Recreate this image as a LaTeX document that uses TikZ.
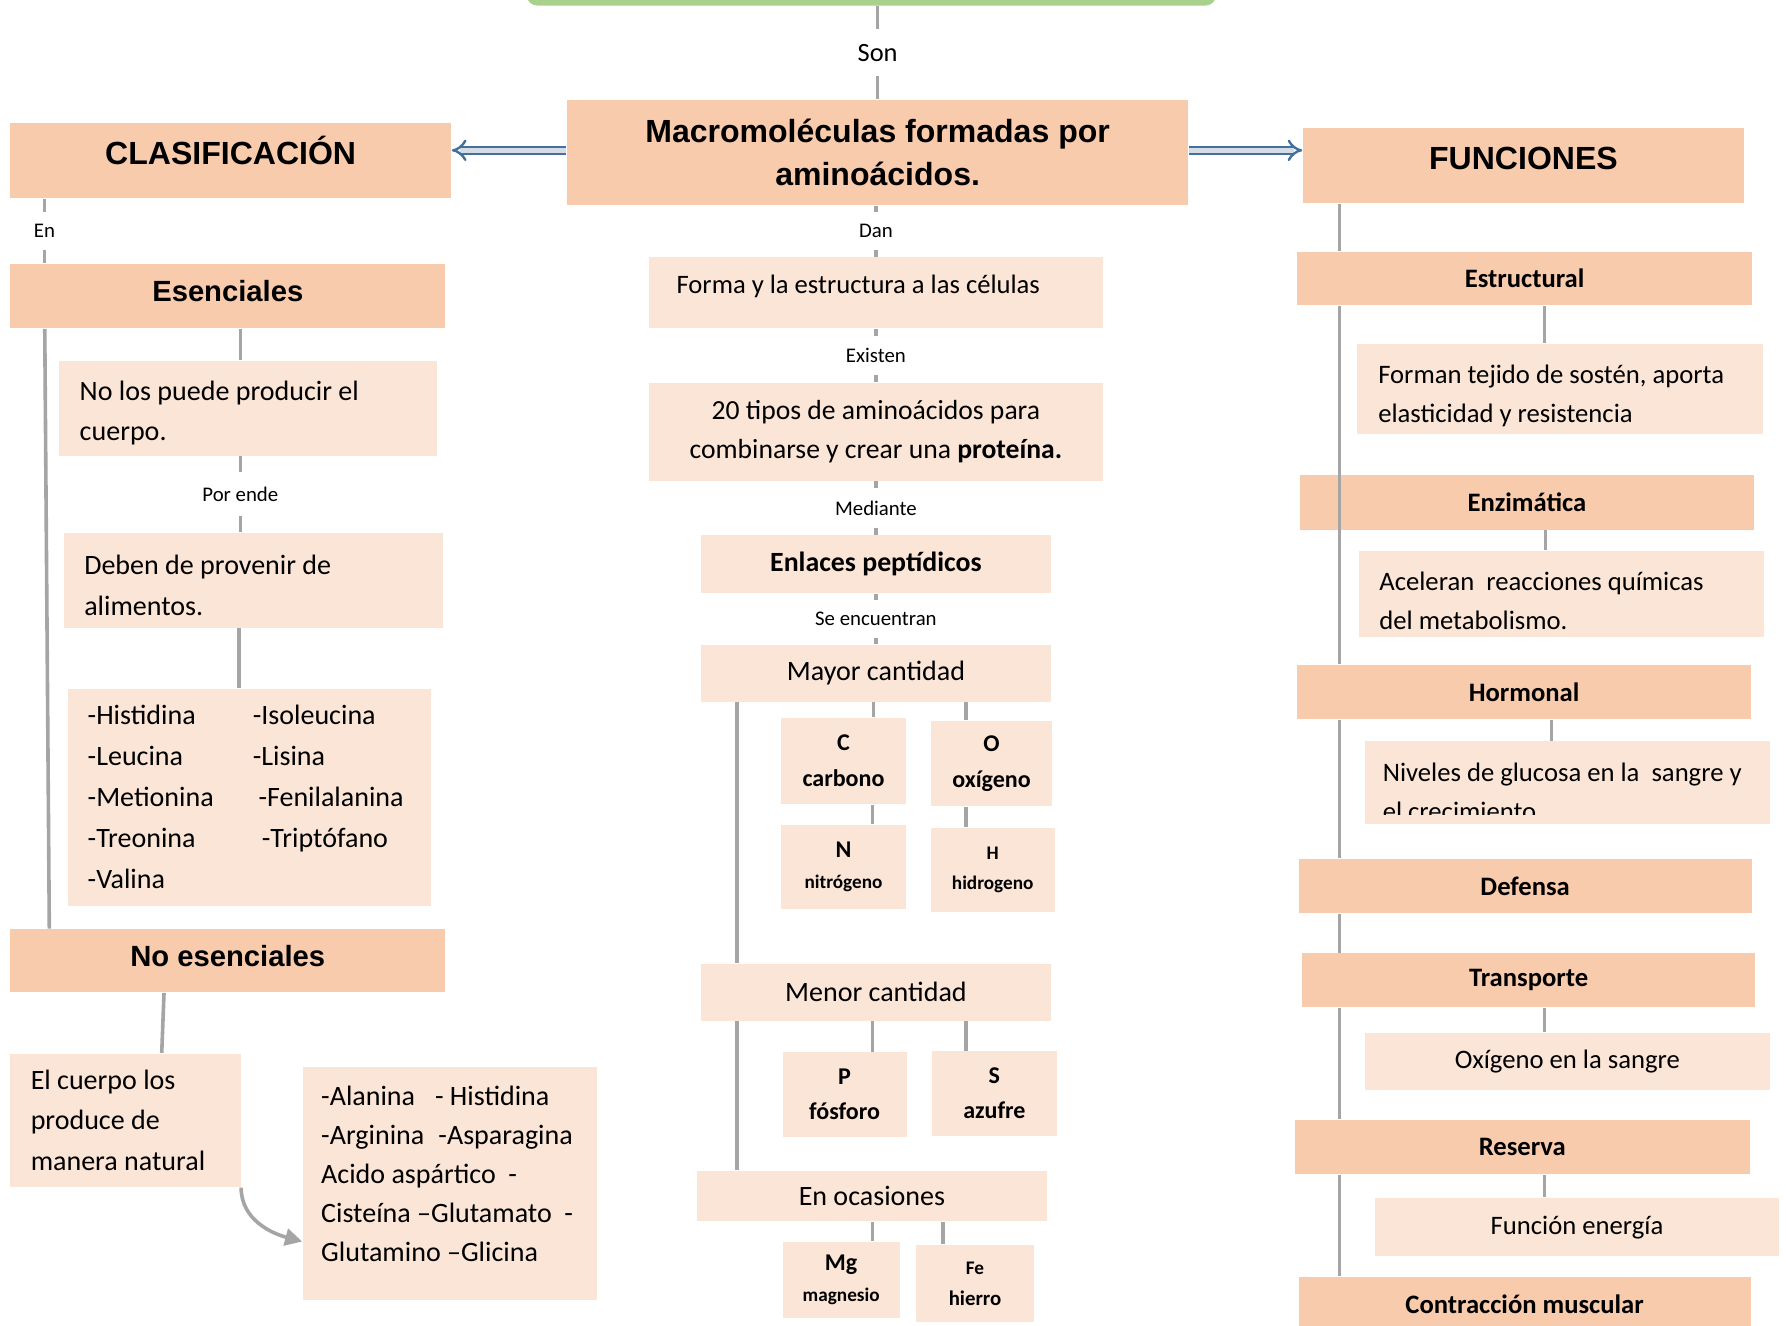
\documentclass[tikz,border=0pt]{standalone}
\usepackage{fontspec}
\setmainfont{Carlito}
\newfontfamily\arialfont{Liberation Sans}
\usetikzlibrary{arrows.meta,positioning}
\definecolor{peachdark}{RGB}{248,203,173}
\definecolor{peachlight}{RGB}{251,229,214}
\definecolor{linegray}{RGB}{165,165,165}
\definecolor{arrowblue}{RGB}{65,113,156}
\definecolor{arrowfill}{RGB}{214,220,229}
\definecolor{topgreen}{RGB}{169,209,142}
\tikzset{
  darkbox/.style={fill=peachdark, inner sep=0pt, align=center},
  lightbox/.style={fill=peachlight, inner sep=0pt, align=center},
  leftbox/.style={fill=peachlight, inner ysep=0pt, inner xsep=0.18cm, align=flush left},
  headfont/.style={font=\arialfont\bfseries\fontsize{8pt}{10.8pt}\selectfont},
  head2font/.style={font=\arialfont\bfseries\fontsize{7.3pt}{9pt}\selectfont, text height=0.19cm, text depth=0.09cm},
  subfont/.style={font=\bfseries\fontsize{6.65pt}{8pt}\selectfont},
  bodyL/.style={font=\fontsize{7pt}{10.1pt}\selectfont},
  bodyC/.style={font=\fontsize{7pt}{9.96pt}\selectfont},
  bodyR/.style={font=\fontsize{6.66pt}{9.67pt}\selectfont},
  elem/.style={font=\bfseries\fontsize{6pt}{#1}\selectfont},
  elemsm/.style={font=\bfseries\fontsize{4.8pt}{#1}\selectfont},
  conn/.style={draw=linegray, line width=0.9pt},
  lbl/.style={fill=white, inner xsep=1pt, inner ysep=0.11cm, font=\fontsize{5.2pt}{6pt}\selectfont},
  dblarrow/.style={draw=arrowblue, line width=0.6pt, double=arrowfill, double distance=1.2pt, -{Implies}},
}
\begin{document}
\begin{tikzpicture}
  \useasboundingbox (0,0) rectangle (15.68,11.64);

  % Top box and main concept
  \node[fill=topgreen, rounded corners=0.1cm, minimum width=6.06cm, minimum height=0.6cm] (top) at (7.65,11.89) {};
  \node[darkbox, headfont, minimum width=5.45cm, minimum height=0.92cm] (macro) at (7.705,10.30) {Macromoléculas formadas por\\aminoácidos.};
  \node[darkbox, headfont, text height=0.2cm, text depth=0.13cm, minimum width=3.87cm, minimum height=0.66cm] (clas) at (2.025,10.23) {CLASIFICACIÓN};
  \node[darkbox, headfont, text height=0.2cm, text depth=0.13cm, minimum width=3.87cm, minimum height=0.66cm] (func) at (13.375,10.19) {FUNCIONES};

  \draw[conn] (macro.north |- top.south) -- node[lbl, inner ysep=0.13cm, font=\fontsize{6.6pt}{8pt}\selectfont] {Son} (macro.north);
  \draw[dblarrow] ([yshift=0.02cm]macro.west) -- ([yshift=0.02cm]macro.west -| clas.east);
  \draw[dblarrow] ([yshift=0.02cm]macro.east) -- ([yshift=0.02cm]macro.east -| func.west);

  % Left column: clasificacion
  \node[darkbox, head2font, minimum width=3.82cm, minimum height=0.56cm] (esen) at (2.00,9.04) {Esenciales};
  \node[leftbox, bodyL, text width=2.96cm, minimum height=0.83cm] (nolos) at (2.18,8.055) {\rule{0pt}{7.3pt}No los puede producir el\\cuerpo.};
  \node[leftbox, bodyL, text width=2.97cm, minimum height=0.83cm] (deben) at (2.225,6.545) {\rule{0pt}{7.3pt}Deben de provenir de\\alimentos.};
  \node[leftbox, font=\fontsize{7pt}{10.24pt}\selectfont, inner xsep=0.17cm, text width=2.84cm, minimum height=1.90cm] (esenlist) at (2.19,4.64) {\makebox[1.45cm][l]{-Histidina}-Isoleucina\\\makebox[1.45cm][l]{-Leucina}-Lisina\\\makebox[1.45cm][l]{-Metionina}\hspace{0.05cm}-Fenilalanina\\\makebox[1.45cm][l]{-Treonina}\hspace{0.08cm}-Triptófano\\-Valina};
  \node[darkbox, head2font, minimum width=3.82cm, minimum height=0.55cm] (noesen) at (2.00,3.205) {No esenciales};
  \node[leftbox, bodyL, text width=1.67cm, minimum height=1.17cm] (cuerpo) at (1.105,1.805) {El cuerpo los\\produce de\\manera natural};
  \node[leftbox, font=\fontsize{7pt}{9.75pt}\selectfont, inner xsep=0.16cm, text width=2.26cm, minimum height=2.04cm] (noesenlist) at (3.95,1.25) {\makebox[1.0cm][l]{-Alanina}- Histidina\\\makebox[1.03cm][l]{-Arginina}-Asparagina\\Acido aspártico\ \ -\\Cisteína –Glutamato\ \ -\\Glutamino –Glicina\\[-0.17cm]\mbox{}};

  \coordinate (lline) at (0.39,0);
  \coordinate (lsub) at (2.11,0);
  \draw[conn] (lline |- clas.south) -- node[lbl] {En} (lline |- esen.north);
  \draw[conn] ([xshift=0.31cm]esen.south west) -- ([xshift=0.35cm]noesen.north west);
  \draw[conn] (lsub |- esen.south) -- (lsub |- nolos.north);
  \draw[conn] (lsub |- nolos.south) -- node[lbl, inner ysep=0.13cm] {Por ende} (lsub |- deben.north);
  \draw[conn] ([xshift=-0.01cm]lsub |- deben.south) -- ([xshift=-0.01cm]lsub |- esenlist.north);
  \draw[conn] ([xshift=-0.56cm]noesen.south) -- ([xshift=0.315cm]cuerpo.north);
  \draw[conn, -{Triangle[length=0.15cm, width=0.15cm]}] ([xshift=-0.01cm]cuerpo.south east) to[out=-90, in=165] ([yshift=-0.51cm]noesenlist.west);

  % Center column
  \node[leftbox, font=\fontsize{6.65pt}{8pt}\selectfont, inner xsep=0.24cm, text width=3.50cm, text height=0.16cm, text depth=0.15cm, minimum height=0.62cm] (forma) at (7.69,9.07) {Forma y la estructura a las células};
  \node[lightbox, font=\fontsize{6.9pt}{9.96pt}\selectfont, minimum width=3.98cm, minimum height=0.86cm] (veinte) at (7.69,7.85) {20 tipos de aminoácidos para\\combinarse y crear una \textbf{proteína.}};
  \node[lightbox, font=\bfseries\fontsize{6.95pt}{8pt}\selectfont, minimum width=3.08cm, minimum height=0.51cm] (enlaces) at (7.69,6.685) {Enlaces peptídicos};
  \node[lightbox, bodyC, minimum width=3.08cm, minimum height=0.50cm] (mayor) at (7.69,5.73) {Mayor cantidad};
  \node[lightbox, elem=9.1pt, minimum width=1.09cm, minimum height=0.76cm] (cbox) at (7.405,4.96) {C\\carbono};
  \node[lightbox, elem=9.1pt, minimum width=1.07cm, minimum height=0.75cm] (obox) at (8.705,4.935) {O\\oxígeno};
  \node[lightbox, elemsm=7.7pt, minimum width=1.09cm, minimum height=0.74cm] (nbox) at (7.405,4.03) {{\fontsize{6pt}{7.7pt}\selectfont N}\\nitrógeno};
  \node[lightbox, elemsm=7.4pt, minimum width=1.09cm, minimum height=0.74cm] (hbox) at (8.715,4.00) {H\\hidrogeno};
  \node[lightbox, bodyC, minimum width=3.08cm, minimum height=0.50cm] (menor) at (7.69,2.93) {Menor cantidad};
  \node[lightbox, elem=8.8pt, minimum width=1.09cm, minimum height=0.74cm] (pbox) at (7.415,2.03) {P\\fósforo};
  \node[lightbox, elem=8.8pt, minimum width=1.10cm, minimum height=0.74cm] (sbox) at (8.73,2.04) {S\\azufre};
  \node[lightbox, bodyC, minimum width=3.07cm, minimum height=0.44cm] (ocas) at (7.655,1.14) {En ocasiones};
  \node[lightbox, elemsm=7.7pt, minimum width=1.03cm, minimum height=0.67cm] (mgbox) at (7.385,0.405) {{\fontsize{6pt}{7.7pt}\selectfont Mg}\\magnesio};
  \node[lightbox, elemsm=7.7pt, minimum width=1.04cm, minimum height=0.68cm] (febox) at (8.56,0.37) {Fe\\{\fontsize{5.2pt}{7.7pt}\selectfont hierro}};

  \draw[conn] (forma.north |- macro.south) -- node[lbl] {Dan} (forma.north);
  \draw[conn] (forma.south) -- node[lbl] {Existen} (veinte.north);
  \draw[conn] (veinte.south) -- node[lbl] {Mediante} (enlaces.north);
  \draw[conn] (enlaces.south) -- node[lbl] {Se encuentran} (mayor.north);

  \coordinate (cline) at (6.47,0);
  \draw[conn] (cline |- mayor.south) -- (cline |- menor.north);
  \draw[conn] (cline |- menor.south) -- (cline |- ocas.north);
  \draw[conn] ([xshift=0.265cm]cbox.north |- mayor.south) -- ([xshift=0.265cm]cbox.north);
  \draw[conn] ([xshift=-0.225cm]obox.north |- mayor.south) -- ([xshift=-0.225cm]obox.north);
  \draw[conn] ([xshift=0.255cm]nbox.north |- cbox.south) -- ([xshift=0.255cm]nbox.north);
  \draw[conn] ([xshift=-0.235cm]hbox.north |- obox.south) -- ([xshift=-0.235cm]hbox.north);
  \draw[conn] ([xshift=0.245cm]pbox.north |- menor.south) -- ([xshift=0.245cm]pbox.north);
  \draw[conn] ([xshift=-0.25cm]sbox.north |- menor.south) -- ([xshift=-0.25cm]sbox.north);
  \draw[conn] ([xshift=0.275cm]mgbox.north |- ocas.south) -- ([xshift=0.275cm]mgbox.north);
  \draw[conn] ([xshift=-0.28cm]febox.north |- ocas.south) -- ([xshift=-0.28cm]febox.north);

  % Right column: funciones
  \node[darkbox, subfont, minimum width=3.99cm, minimum height=0.47cm] (estr) at (13.385,9.195) {Estructural};
  \node[leftbox, bodyR, inner xsep=0.19cm, text width=3.19cm, minimum height=0.79cm] (forman) at (13.695,8.225) {\rule{0pt}{8pt}Forman tejido de sostén, aporta\\elasticidad y resistencia};
  \node[darkbox, subfont, minimum width=3.99cm, minimum height=0.48cm] (enzi) at (13.405,7.23) {Enzimática};
  \node[leftbox, bodyR, text width=3.20cm, minimum height=0.75cm] (acel) at (13.71,6.425) {\rule{0pt}{8pt}Aceleran\ \ reacciones químicas\\del metabolismo.};
  \node[darkbox, subfont, minimum width=3.98cm, minimum height=0.47cm] (horm) at (13.38,5.565) {Hormonal};
  \node[lightbox, minimum width=3.56cm, minimum height=0.72cm] (nive) at (13.76,4.77) {};
  \begin{scope}
    \clip (nive.north west) rectangle ([yshift=0.09cm]nive.south east);
    \node[font=\fontsize{6.66pt}{9.67pt}\selectfont, align=flush left, inner ysep=0pt, inner xsep=0.16cm, text width=3.24cm] (nivetext) at ([yshift=-0.08cm]nive.center) {Niveles de glucosa en la\ \ sangre y\\el crecimiento};
  \end{scope}
  \node[darkbox, subfont, minimum width=3.98cm, minimum height=0.48cm] (defe) at (13.39,3.86) {Defensa};
  \node[darkbox, subfont, minimum width=3.98cm, minimum height=0.47cm] (trans) at (13.42,3.035) {Transporte};
  \node[lightbox, bodyR, minimum width=3.56cm, minimum height=0.50cm] (oxi) at (13.76,2.32) {Oxígeno en la sangre};
  \node[darkbox, subfont, minimum width=3.99cm, minimum height=0.48cm] (rese) at (13.365,1.57) {Reserva};
  \node[lightbox, bodyR, minimum width=3.55cm, minimum height=0.51cm] (energ) at (13.845,0.865) {Función energía};
  \node[darkbox, subfont, minimum width=3.97cm, minimum height=0.49cm] (contr) at (13.385,0.185) {Contracción muscular};

  \coordinate (rline) at (11.76,0);
  \draw[conn] (rline |- func.south) -- (rline |- estr.north);
  \draw[conn] (rline |- estr.south) -- (rline |- horm.north);
  \draw[conn] (rline |- horm.south) -- (rline |- defe.north);
  \draw[conn] (rline |- defe.south) -- (rline |- trans.north);
  \draw[conn] (rline |- trans.south) -- (rline |- rese.north);
  \draw[conn] (rline |- rese.south) -- (rline |- contr.north);

  \coordinate (rsub) at (13.56,0);
  \draw[conn] (rsub |- estr.south) -- (rsub |- forman.north);
  \draw[conn] ([xshift=0.01cm]rsub |- enzi.south) -- ([xshift=0.01cm]rsub |- acel.north);
  \draw[conn] ([xshift=0.06cm]rsub |- horm.south) -- ([xshift=0.06cm]rsub |- nive.north);
  \draw[conn] (rsub |- trans.south) -- (rsub |- oxi.north);
  \draw[conn] (rsub |- rese.south) -- (rsub |- energ.north);
\end{tikzpicture}
\end{document}
